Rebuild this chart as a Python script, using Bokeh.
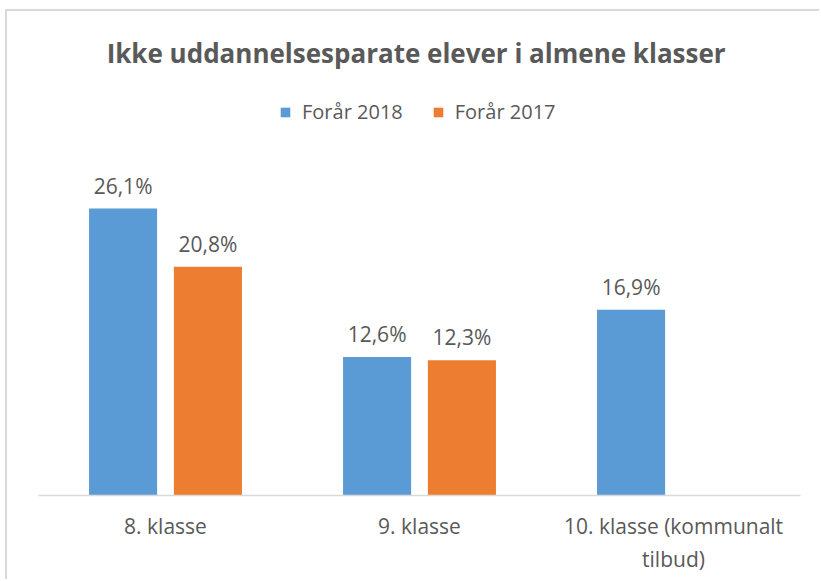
from bokeh.plotting import figure
from bokeh.models import (ColumnDataSource, FactorRange, Range1d, Legend, LegendItem,
                          LabelSet)
from bokeh.transform import dodge
from bokeh.core.properties import value
from bokeh.embed import file_html
from bokeh.resources import INLINE

# ---- data ----
categories = ["8. klasse", "9. klasse", "10. klasse (kommunalt\ntilbud)"]
series_names = ["Forår 2018", "Forår 2017"]
values_2018 = [26.1, 12.6, 16.9]
values_2017 = [20.8, 12.3, None]
title_text = "Ikke uddannelsesparate  elever i almene klasser"

BLUE = "#5B9BD5"
ORANGE = "#ED7D31"
TEXT = "#595959"
FONT = "Open Sans"


def fmt(v):
    return f"{v:.1f}".replace(".", ",") + "%"


def make_source(vals):
    cats = [c for c, v in zip(categories, vals) if v is not None]
    vs = [v for v in vals if v is not None]
    return ColumnDataSource(dict(cat=cats, val=vs, lab=[fmt(v) for v in vs]))


src18 = make_source(values_2018)
src17 = make_source(values_2017)

p = figure(x_range=FactorRange(factors=categories, range_padding=0),
           y_range=Range1d(0, 38.2),
           width=814, height=570,
           output_backend="svg", toolbar_location=None,
           min_border_left=31, min_border_right=21,
           min_border_top=64, min_border_bottom=86)

p.title.text = title_text
p.title.align = "center"
p.title.text_font = FONT
p.title.text_font_style = "bold"
p.title.text_font_size = "26px"
p.title.text_color = TEXT
p.title.standoff = 9

bw = 0.268
off = 0.167
r18 = p.vbar(x=dodge("cat", -off, range=p.x_range), top="val", width=bw,
             source=src18, fill_color=BLUE, line_color=None)
r17 = p.vbar(x=dodge("cat", off, range=p.x_range), top="val", width=bw,
             source=src17, fill_color=ORANGE, line_color=None)

for src, o in ((src18, -off), (src17, off)):
    labels = LabelSet(x=dodge("cat", o, range=p.x_range), y="val", text="lab",
                      source=src, y_offset=9, text_align="center",
                      text_baseline="bottom", text_font=value(FONT),
                      text_font_size="21px", text_color=TEXT)
    p.add_layout(labels)

legend = Legend(items=[LegendItem(label=series_names[0], renderers=[r18]),
                       LegendItem(label=series_names[1], renderers=[r17])],
                orientation="horizontal", location=(241, 370),
                glyph_width=12, glyph_height=12, label_standoff=11, spacing=29,
                label_text_font=FONT, label_text_font_size="20px",
                label_text_color=TEXT, border_line_color=None,
                background_fill_alpha=0, padding=0, margin=0)
p.add_layout(legend)

p.yaxis.visible = False
p.xgrid.visible = False
p.ygrid.visible = False
p.outline_line_color = None

ax = p.xaxis[0]
ax.axis_line_color = "#D9D9D9"
ax.axis_line_width = 1.5
ax.major_tick_line_color = None
ax.minor_tick_line_color = None
ax.major_label_text_font = FONT
ax.major_label_text_font_size = "21px"
ax.major_label_text_color = TEXT
ax.major_label_standoff = 10

p.styles = {"border-top": "2px solid #D9D9D9", "border-left": "2px solid #D9D9D9",
            "margin-left": "5px", "margin-top": "9px"}

open("out.html", "w").write(file_html(p, INLINE))
